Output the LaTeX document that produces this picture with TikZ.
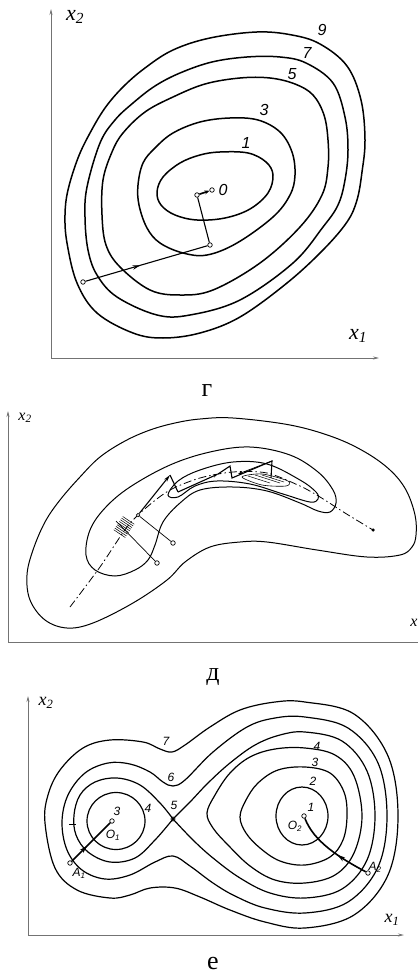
\documentclass[tikz,border=0pt]{standalone}
\usepackage{fontspec}
\setmainfont{Liberation Serif}
\newfontfamily\numfont{Liberation Sans}
\usetikzlibrary{arrows.meta,decorations.markings,calc}
\begin{document}
\begin{tikzpicture}[x=1pt,y=-1pt,
  axisline/.style={draw=black!55, line width=0.8pt, -{Stealth[length=6pt,width=3pt]}},
  axisplain/.style={draw=black!55, line width=0.8pt},
  cg/.style={line width=1.5pt},
  cd/.style={line width=1.0pt},
  ce/.style={line width=1.2pt},
  traj/.style={line width=1.1pt},
  dotnode/.style={circle, draw, fill=white, inner sep=0pt, minimum size=4.5pt, line width=0.7pt},
  num/.style={font=\numfont\itshape\fontsize{16}{16}\selectfont, inner sep=0pt},
  nume/.style={font=\numfont\itshape\fontsize{12}{12}\selectfont, inner sep=0pt},
  captext/.style={font=\fontsize{26}{26}\selectfont, inner sep=0pt},
  axl/.style={font=\itshape\fontsize{22}{22}\selectfont, inner sep=0pt},
  axlsmall/.style={font=\itshape\fontsize{16}{16}\selectfont, inner sep=0pt},
  axlmid/.style={font=\itshape\fontsize{18}{18}\selectfont, inner sep=0pt},
  midarrow/.style={postaction={decorate}, decoration={markings, mark=at position #1 with {\arrow{Stealth[length=8pt,width=4.5pt]}}}},
]
\useasboundingbox (0,0) rectangle (418,973);

% ================= panel g =================
\coordinate (gO) at (51,358); \coordinate (gY) at (51,9); \coordinate (gX) at (379,358);
\draw[axisline] (gO) -- (gY);
\draw[axisline] (gO) -- (gX);
\node[axl] (gx2) at (75,17) {x\textsubscript{2}};
\node[axl] (gx1) at (358,336) {x\textsubscript{1}};

\draw[cg] plot[smooth cycle, tension=0.6] coordinates {(257,32) (292,35) (320,44) (347,66) (361,100) (365,140) (362,172) (357,200) (347,222) (323,250) (287,283) (240,317) (200,333) (163,338) (133,333) (97,313) (77,283) (67,243) (65,215) (68,190) (78,158) (90,133) (105,108) (123,87) (145,68) (173,50) (210,38)};
\draw[cg] plot[smooth cycle, tension=0.6] coordinates {(247,57) (280,57) (306,63) (333,83) (345,117) (348,150) (345,180) (338,205) (323,227) (293,263) (240,300) (190,315) (157,315) (117,297) (97,275) (88,250) (85,217) (87,187) (100,143) (115,120) (133,103) (155,86) (180,73) (212,62)};
\draw[cg] plot[smooth cycle, tension=0.6] coordinates {(240,78) (270,78) (295,84) (313,95) (324,115) (328,140) (328,167) (322,195) (300,227) (260,263) (213,290) (180,295) (150,290) (120,267) (106,245) (102,215) (103,180) (112,152) (123,133) (145,112) (173,97) (205,84)};
\draw[cg] plot[smooth cycle, tension=0.6] coordinates {(230,118) (258,120) (280,132) (292,152) (295,175) (290,195) (273,217) (237,243) (207,255) (183,253) (160,243) (147,228) (139,205) (138,185) (143,163) (155,148) (173,133) (200,122)};
\draw[cg] plot[smooth cycle, tension=0.6] coordinates {(220,152) (248,153) (266,162) (273,175) (268,193) (250,209) (225,218) (197,220) (175,215) (161,205) (157,192) (163,177) (180,163) (200,155)};

\node[num] (g9) at (322,30) {9};
\node[num] (g7) at (307,53) {7};
\node[num] (g5) at (292,74) {5};
\node[num] (g3) at (264,110) {3};
\node[num] (g1) at (246,143) {1};
\node[num] (g0l) at (223,190) {0};

\node[dotnode] (gp0) at (83,282) {};
\node[dotnode] (gp1) at (210,245) {};
\node[dotnode] (gp2) at (197,195) {};
\node[dotnode] (gp3) at (212,190) {};
\draw[traj, midarrow=0.45] (gp0) -- (gp1);
\draw[traj] (gp1) -- (gp2);
\draw[line width=1.6pt, -{Stealth[length=5pt,width=4pt]}] (gp2) -- (gp3);

\node[captext] (capg) at (207,391) {г};

% ================= panel d =================
\coordinate (dO) at (8,642); \coordinate (dY) at (8,411); \coordinate (dX) at (418,642);
\draw[axisline] (dO) -- (dY);
\draw[axisplain] (dO) -- (dX);
\node[axlsmall] (dx2) at (25,418) {x\textsubscript{2}};
\node[axlsmall] (dx1) at (414,623) {x};

\draw[cd] plot[smooth cycle, tension=0.6] coordinates {(233,418) (290,425) (333,437) (365,452) (390,470) (406,490) (415,515) (416,535) (412,547) (400,555) (367,557) (317,550) (267,542) (240,542) (210,547) (185,562) (167,580) (133,603) (93,623) (67,628) (45,620) (30,600) (27,575) (33,550) (45,522) (60,500) (80,477) (100,457) (125,441) (150,430) (175,423) (200,419)};
\draw[cd] plot[smooth cycle, tension=0.6] coordinates {(90,530) (105,508) (130,487) (170,465) (210,452) (250,447) (290,455) (318,472) (333,490) (336,503) (330,512) (318,511) (300,503) (267,491) (233,487) (200,490) (180,503) (163,522) (155,545) (148,560) (135,570) (115,576) (95,570) (86,555)};
\draw[cd] plot[smooth cycle, tension=0.6] coordinates {(168,495) (178,481) (200,470) (233,462) (267,464) (300,480) (316,492) (318,499) (310,502) (283,494) (250,484) (217,481) (195,486) (178,497)};
\draw[line width=0.6pt] plot[smooth cycle] coordinates {(242,477) (262,474) (288,481) (286,486) (262,485)};
\draw[line width=0.5pt] (248,476) -- (270,483) (255,475) -- (280,483) (262,475) -- (284,482);

\draw[line width=0.8pt, dash pattern=on 8pt off 3pt on 1.5pt off 3pt] plot[smooth] coordinates {(70,607) (100,567) (127,527) (147,507) (170,490) (200,478) (233,472) (267,473) (300,486) (320,497) (345,513) (373,530)};
\node[circle, fill, inner sep=0pt, minimum size=3.5pt] (dend) at (373,530) {};

\coordinate (dsc) at (124,527);
\foreach \t in {-4,...,4}
  \draw[line width=0.5pt] ($(dsc)+({\t*1.12+5.8},{-\t*1.66+3.9})$) -- ($(dsc)+({\t*1.12-5.8},{-\t*1.66-3.9})$);

\node[dotnode] (dc1) at (157,563) {};
\node[dotnode] (dc2) at (173,543) {};
\node[dotnode, minimum size=3.5pt] (dc3) at (138,515) {};
\coordinate (dl1) at (116,521);
\draw[line width=0.7pt] (dc1) -- (dl1);
\draw[line width=0.7pt] (dc2) -- (dc3);
\coordinate (dt1) at (170,475);
\coordinate (dt2) at (178,492);
\coordinate (dt3) at (218,474);
\coordinate (dt4) at (230,466);
\coordinate (dt5) at (232,478);
\coordinate (dt6) at (272,461);
\coordinate (dt7) at (271,478);
\coordinate (dt8) at (238,474);
\draw[traj, -{Stealth[length=7pt,width=3.5pt]}] (dc3) -- (dt1);
\draw[traj] (dt1) -- (dt2);
\draw[traj, -{Stealth[length=5pt,width=3pt]}] (dt2) -- (dt3);
\draw[traj] (dt3) -- (dt4) -- (dt5) -- (dt6) -- (dt7);
\draw[line width=0.7pt, -{Stealth[length=5pt,width=3pt]}] (dt6) -- (dt8);

\node[captext] (capd) at (213,677) {д};

% ================= panel e =================
\coordinate (eO) at (28,935); \coordinate (eY) at (28,696); \coordinate (eX) at (404,935);
\draw[axisline] (eO) -- (eY);
\draw[axisline] (eO) -- (eX);
\node[axlmid] (ex2) at (46,703) {x\textsubscript{2}};
\node[axlmid] (ex1) at (392,920) {x\textsubscript{1}};

% outer 7
\draw[ce] plot[smooth cycle, tension=0.6] coordinates {(110,740) (143,742) (160,749) (172,752) (185,745) (210,727) (240,710) (275,702) (305,702) (354,714) (388,756) (398,816) (388,875) (354,915) (305,928) (265,922) (230,910) (200,897) (175,888) (150,888) (130,895) (110,898) (77,890) (55,868) (45,823) (48,795) (60,770) (83,748)};
% 6
\draw[ce] plot[smooth cycle, tension=0.6] coordinates {(108,763) (130,764) (150,772) (163,782) (173,786) (185,780) (213,752) (247,727) (275,718) (305,717) (348,728) (378,763) (387,816) (378,867) (348,902) (305,913) (265,908) (235,896) (213,883) (190,866) (173,856) (155,862) (130,875) (105,879) (82,870) (67,850) (62,822) (68,795) (85,773)};
% separatrix 5
\node[dotnode, minimum size=4pt] (es) at (173,819) {};
\draw[ce] plot[smooth, tension=0.6] coordinates {(173,819) (190,802) (208,783) (230,763) (255,745) (280,735) (305,732) (342,741) (367,771) (375,816) (367,860) (342,889) (305,898) (270,893) (240,878) (213,858) (193,840) (173,819)};
\draw[ce] plot[smooth, tension=0.6] coordinates {(173,819) (160,803) (140,785) (117,778) (95,782) (80,795) (74,815) (76,835) (88,852) (110,862) (135,858) (155,840) (173,819)};
% right 4
\draw[ce] plot[smooth cycle, tension=0.6] coordinates {(207,813) (215,795) (230,773) (250,757) (275,749) (305,748) (335,755) (354,776) (362,816) (354,853) (335,875) (305,883) (275,880) (250,866) (228,845) (213,828)};
% right 3
\draw[ce] plot[smooth cycle, tension=0.6] coordinates {(240,817) (246,800) (258,783) (278,770) (305,767) (330,773) (344,792) (347,816) (343,840) (330,857) (305,865) (280,861) (260,848) (246,833)};
% right 2 and left 4 circles
\draw[ce] (302,816) ellipse [x radius=26, y radius=29];
\draw[ce] (116,821) ellipse [x radius=29, y radius=28.5];
\draw[line width=0.8pt] (69,824) -- (76,824);

\node[dotnode] (eo1) at (112,821) {};
\node[dotnode] (eo2) at (304,816) {};
\node[dotnode] (ea1) at (70,863) {};
\node[dotnode] (ea2) at (368,873) {};
\draw[line width=1.6pt, midarrow=0.4] (ea1) -- (eo1);
\draw[line width=1.6pt, midarrow=0.4] (ea2) .. controls (340,858) and (314,842) .. (eo2);

\node[nume] (e7) at (166,741) {7};
\node[nume] (e6) at (171,777) {6};
\node[nume] (e5) at (174,805) {5};
\node[nume] (e4l) at (148,808) {4};
\node[nume] (e3l) at (117,811) {3};
\node[nume] (eO1) at (113,835) {O\textsubscript{1}};
\node[nume] (eA1) at (79,873) {A\textsubscript{1}};
\node[nume] (e1) at (311,807) {1};
\node[nume] (eO2) at (295,826) {O\textsubscript{2}};
\node[nume] (e2) at (313,781) {2};
\node[nume] (e3) at (315,762) {3};
\node[nume] (e4) at (317,746) {4};
\node[nume] (eA2) at (375,867) {A\textsubscript{2}};

\node[captext] (cape) at (213,963) {е};
\end{tikzpicture}
\end{document}
